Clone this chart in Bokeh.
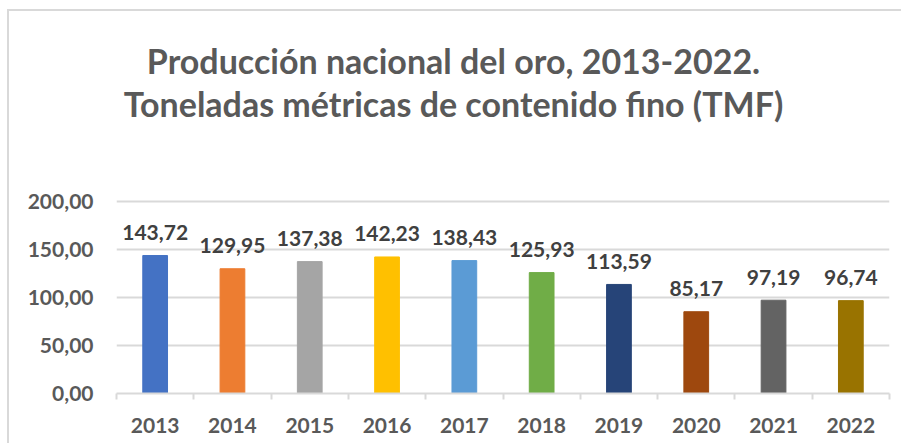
from bokeh.plotting import figure
from bokeh.models import Range1d, FixedTicker, Label, ColumnDataSource
from bokeh.core.properties import value
from bokeh.embed import file_html
from bokeh.resources import INLINE

years = ["2013", "2014", "2015", "2016", "2017", "2018", "2019", "2020", "2021", "2022"]
production = [143.72, 129.95, 137.38, 142.23, 138.43, 125.93, 113.59, 85.17, 97.19, 96.74]
colors = ["#4472C4", "#ED7D31", "#A5A5A5", "#FFC000", "#5B9BD5",
          "#70AD47", "#264478", "#9E480E", "#636363", "#997300"]
y_ticks = [0, 50, 100, 150, 200]
y_tick_labels = ["0,00", "50,00", "100,00", "150,00", "200,00"]
title_lines = ["Producción nacional del oro, 2013-2022.",
               "Toneladas métricas de contenido fino (TMF)"]

FONT = "Lato"
GRAY = "#595959"

n = len(years)
centers = [i + 0.5 for i in range(n)]
labels = [f"{v:.2f}".replace(".", ",") for v in production]

src = ColumnDataSource(dict(x=centers, top=production, color=colors, label=labels))

p = figure(width=894, height=434, output_backend="svg", toolbar_location=None,
           title=None, x_range=Range1d(0, n), y_range=Range1d(0, 397.9),
           min_border_left=107, min_border_right=14, min_border_top=0,
           min_border_bottom=52)
p.styles = {"margin-left": "7px", "margin-top": "9px",
            "border-top": "2px solid #d9d9d9", "border-left": "2px solid #d9d9d9"}
p.outline_line_color = None
p.background_fill_color = "white"
p.border_fill_color = "white"

p.vbar(x="x", top="top", width=0.32, color="color", source=src)
p.text(x="x", y="top", text="label", source=src, y_offset=-23,
       text_align="center", text_baseline="alphabetic",
       text_font=value(FONT), text_font_style="bold", text_font_size="21px",
       text_color="#404040")

# axes
yt = FixedTicker(ticks=y_ticks)
p.yaxis.ticker = yt
p.yaxis.major_label_overrides = {t: l for t, l in zip(y_ticks, y_tick_labels)}
p.yaxis.axis_line_color = None
p.yaxis.major_tick_line_color = None
p.yaxis.minor_tick_line_color = None
p.yaxis.major_label_standoff = 17
p.yaxis.major_label_text_font = FONT
p.yaxis.major_label_text_font_style = "bold"
p.yaxis.major_label_text_font_size = "21px"
p.yaxis.major_label_text_color = GRAY

p.xaxis.ticker = FixedTicker(ticks=centers, minor_ticks=list(range(n + 1)))
p.xaxis.major_label_overrides = {c: y for c, y in zip(centers, years)}
p.xaxis.axis_line_color = "#d9d9d9"
p.xaxis.axis_line_width = 2
p.xaxis.major_tick_line_color = None
p.xaxis.minor_tick_line_color = "#d9d9d9"
p.xaxis.minor_tick_line_width = 2
p.xaxis.minor_tick_in = 0
p.xaxis.minor_tick_out = 6
p.xaxis.major_label_standoff = 18
p.xaxis.major_label_text_font = FONT
p.xaxis.major_label_text_font_style = "bold"
p.xaxis.major_label_text_font_size = "21px"
p.xaxis.major_label_text_color = GRAY

p.xgrid.grid_line_color = None
p.ygrid.ticker = yt
p.ygrid.grid_line_color = "#d9d9d9"
p.ygrid.grid_line_width = 2

for txt, yy in zip(title_lines, [346.9, 302.1]):
    p.add_layout(Label(x=4.36, y=yy, text=txt, text_align="center",
                       text_baseline="middle", text_font=FONT,
                       text_font_style="bold", text_font_size="34px",
                       text_color=GRAY))

open("out.html", "w").write(file_html(p, INLINE))
